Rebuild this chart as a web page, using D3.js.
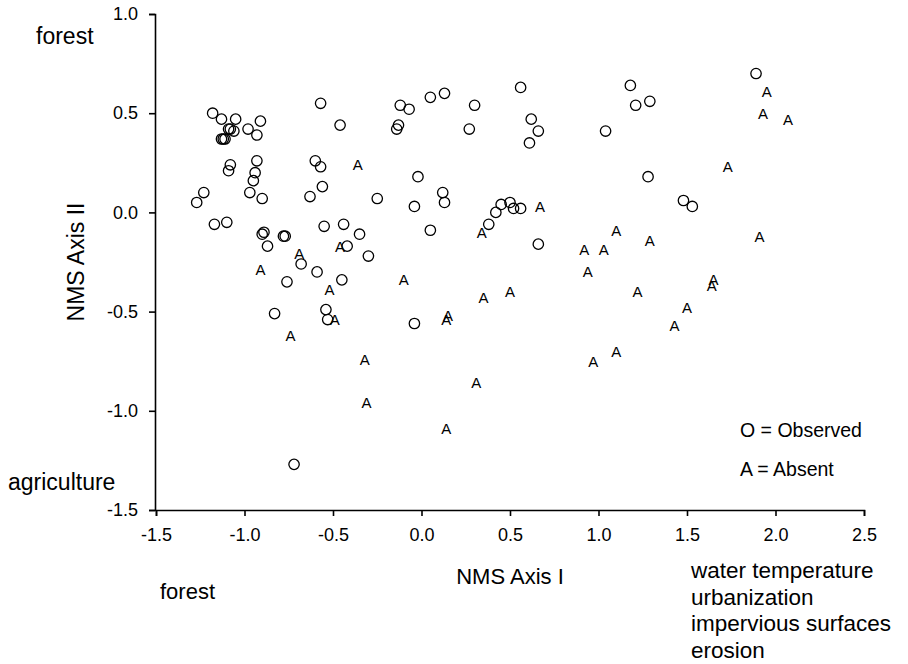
<!DOCTYPE html>
<html lang="en">
<head>
    <meta charset="UTF-8">
    <title>NMS ordination</title>
    <style>
        body { margin: 0; background: #fff; }
        svg text { font-family: "Liberation Sans", Arial, Helvetica, sans-serif; fill: #000; }
    </style>
</head>
<body>
    <div id="workspace"></div>

    <script src="https://cdn.jsdelivr.net/npm/d3@7"></script>
    <script>
        // site scores, sites where the species was observed
        const obsX = [-1.18, -1.13, -1.05, -1.09, -1.08, -1.06, -0.98, -0.91, -0.93, -1.13, -1.12, -1.11,
            -0.57, -0.46, -0.12, -0.07, -0.13, -0.14, 0.05, -1.08, -1.09, -0.93, -0.94, -0.95,
            -0.60, -0.57, -0.02, -1.23, -1.27, -0.97, -0.90, -0.63, -0.56, -0.25, -0.04, -1.17,
            -1.10, -0.89, -0.90, -0.78, -0.77, -0.55, -0.44, -0.35, 0.05, -0.87, -0.42, -0.30,
            -0.68, -0.59, -0.76, -0.45, -0.83, -0.54, -0.53, -0.04, -0.72, 0.13, 0.30, 0.27,
            0.56, 0.62, 0.66, 0.61, 1.18, 1.21, 1.29, 1.04, 0.12, 0.13, 0.38, 0.42,
            0.45, 0.50, 0.52, 0.56, 0.66, 1.28, 1.48, 1.53, 1.89];
        const obsY = [0.50, 0.47, 0.47, 0.42, 0.42, 0.41, 0.42, 0.46, 0.39, 0.37, 0.37, 0.37,
            0.55, 0.44, 0.54, 0.52, 0.44, 0.42, 0.58, 0.24, 0.21, 0.26, 0.20, 0.16,
            0.26, 0.23, 0.18, 0.10, 0.05, 0.10, 0.07, 0.08, 0.13, 0.07, 0.03, -0.06,
            -0.05, -0.10, -0.11, -0.12, -0.12, -0.07, -0.06, -0.11, -0.09, -0.17, -0.17, -0.22,
            -0.26, -0.30, -0.35, -0.34, -0.51, -0.49, -0.54, -0.56, -1.27, 0.60, 0.54, 0.42,
            0.63, 0.47, 0.41, 0.35, 0.64, 0.54, 0.56, 0.41, 0.10, 0.05, -0.06, 0.00,
            0.04, 0.05, 0.02, 0.02, -0.16, 0.18, 0.06, 0.03, 0.70];

        // site scores, sites where the species was absent
        const absX = [-0.36, -0.69, -0.46, -0.91, -0.52, -0.10, -0.49, -0.74, -0.32, -0.31, 0.34, 0.67,
            1.10, 1.29, 0.92, 1.03, 0.94, 0.15, 0.14, 0.35, 0.50, 1.22, 1.50, 1.43,
            0.97, 1.10, 0.31, 0.14, 1.95, 1.93, 2.07, 1.73, 1.91, 1.65, 1.64];
        const absY = [0.24, -0.21, -0.17, -0.29, -0.39, -0.34, -0.54, -0.62, -0.74, -0.96, -0.10, 0.03,
            -0.09, -0.14, -0.19, -0.19, -0.30, -0.52, -0.54, -0.43, -0.40, -0.40, -0.48, -0.57,
            -0.75, -0.70, -0.86, -1.09, 0.61, 0.50, 0.47, 0.23, -0.12, -0.34, -0.37];

        const xTicks = [-1.5, -1.0, -0.5, 0.0, 0.5, 1.0, 1.5, 2.0, 2.5];
        const xTickLabels = ["-1.5", "-1.0", "-0.5", "0.0", "0.5", "1.0", "1.5", "2.0", "2.5"];
        const yTicks = [-1.5, -1.0, -0.5, 0.0, 0.5, 1.0];
        const yTickLabels = ["-1.5", "-1.0", "-0.5", "0.0", "0.5", "1.0"];
        const gradientRight = ["water temperature", "urbanization", "impervious surfaces", "erosion"];

        const width = 908, height = 664;
        const x = d3.scaleLinear().domain([-1.5, 2.5]).range([156, 864]);
        const y = d3.scaleLinear().domain([-1.5, 1.0]).range([510, 14]);

        const svg = d3.select("#workspace").append("svg")
            .attr("width", width)
            .attr("height", height);

        const xAxis = svg.append("g")
            .attr("transform", "translate(0,510)")
            .call(d3.axisBottom(x).tickValues(xTicks).tickFormat((d, i) => xTickLabels[i])
                .tickSizeOuter(0).tickSize(6).tickPadding(12));
        const yAxis = svg.append("g")
            .attr("transform", "translate(155,0)")
            .call(d3.axisLeft(y).tickValues(yTicks).tickFormat((d, i) => yTickLabels[i])
                .tickSizeOuter(0).tickSize(6).tickPadding(11));
        [xAxis, yAxis].forEach(g => {
            g.selectAll("path, line").attr("stroke", "#000").attr("stroke-width", 1.6);
            g.selectAll("text").attr("font-size", 18).attr("fill", "#000")
                .style("font-family", "'Liberation Sans', Arial, sans-serif");
        });

        // observed = O
        svg.append("g").selectAll("circle")
            .data(obsX.map((v, i) => [v, obsY[i]]))
            .enter()
            .append("circle")
            .attr("cx", d => x(d[0]))
            .attr("cy", d => y(d[1]))
            .attr("r", 5.2)
            .attr("fill", "none")
            .attr("stroke", "#000")
            .attr("stroke-width", 1.3);

        // absent = A
        svg.append("g").selectAll("text")
            .data(absX.map((v, i) => [v, absY[i]]))
            .enter()
            .append("text")
            .attr("x", d => x(d[0]))
            .attr("y", d => y(d[1]))
            .attr("dy", "0.36em")
            .attr("text-anchor", "middle")
            .attr("font-size", 15)
            .text("A");

        // axis titles
        svg.append("text")
            .attr("transform", "translate(84,262) rotate(-90)")
            .attr("text-anchor", "middle")
            .attr("font-size", 23)
            .text("NMS Axis II");
        svg.append("text")
            .attr("x", 510).attr("y", 584)
            .attr("text-anchor", "middle")
            .attr("font-size", 22)
            .text("NMS Axis I");

        // gradient ends
        svg.append("text").attr("x", 36).attr("y", 44).attr("font-size", 23).text("forest");
        svg.append("text").attr("x", 8).attr("y", 490).attr("font-size", 23).text("agriculture");
        svg.append("text").attr("x", 160).attr("y", 599).attr("font-size", 22).text("forest");
        svg.append("g").selectAll("text")
            .data(gradientRight)
            .enter()
            .append("text")
            .attr("x", 691)
            .attr("y", (d, i) => 578 + i * 26.5)
            .attr("font-size", 22.5)
            .text(d => d);

        // legend
        svg.append("text").attr("x", 740).attr("y", 437).attr("font-size", 19.5).text("O = Observed");
        svg.append("text").attr("x", 740).attr("y", 476).attr("font-size", 19.5).text("A = Absent");
    </script>
</body>
</html>
